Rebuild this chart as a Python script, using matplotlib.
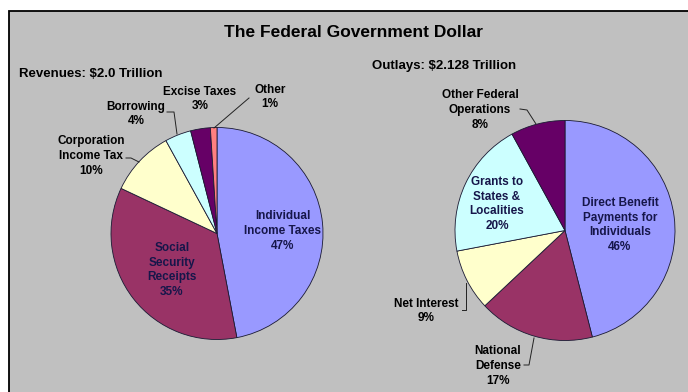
import matplotlib
matplotlib.use("Agg")
import matplotlib.pyplot as plt
from matplotlib.patches import Rectangle

W, H = 688, 392

# revenues pie
rev_labels = ["Individual\nIncome Taxes", "Social\nSecurity\nReceipts", "Corporation\nIncome Tax",
              "Borrowing", "Excise Taxes", "Other"]
rev_values = [47, 35, 10, 4, 3, 1]
rev_colors = ["#9999FF", "#993366", "#FFFFCC", "#CCFFFF", "#660066", "#FF8080"]

# outlays pie
out_labels = ["Direct Benefit\nPayments for\nIndividuals", "National\nDefense", "Net Interest",
              "Grants to\nStates &\nLocalities", "Other Federal\nOperations"]
out_values = [46, 17, 9, 20, 8]
out_colors = ["#9999FF", "#993366", "#FFFFCC", "#CCFFFF", "#660066"]

NAVY = "#16164a"
FONT = "Liberation Sans"


def P(x, y):
    # pixel position (top-left origin) -> axes data coords
    return x, H - y


fig = plt.figure(figsize=(W / 100, H / 100), dpi=100)
fig.patch.set_facecolor("white")
ax = fig.add_axes([0, 0, 1, 1])

wedge_style = dict(edgecolor="#1a1a33", linewidth=0.6)
ax.pie(rev_values, colors=rev_colors, startangle=90, counterclock=False,
       center=P(217, 233.5), radius=106, wedgeprops=wedge_style, frame=True)
ax.pie(out_values, colors=out_colors, startangle=90, counterclock=False,
       center=P(565, 230.5), radius=110, wedgeprops=wedge_style, frame=True)

ax.set_xlim(0, W)
ax.set_ylim(0, H)
ax.set_aspect("equal")
ax.axis("off")

# grey panel, only its top and left borders fall inside the figure
ax.add_patch(Rectangle(P(9, 1500), 2000, 1489, facecolor="#C0C0C0",
                       edgecolor="none", zorder=0))
ax.plot([9, 9, 2000], [-100, H - 11, H - 11], color="black", linewidth=1.3,
        solid_joinstyle="miter", zorder=0.5)

ax.text(*P(353, 32), "The Federal Government Dollar", ha="center", va="center",
        fontsize=12.5, fontweight="bold", family=FONT)
ax.text(*P(19, 74), "Revenues: $2.0 Trillion", ha="left", va="center",
        fontsize=9.5, fontweight="bold", family=FONT)
ax.text(*P(372, 66), "Outlays: $2.128 Trillion", ha="left", va="center",
        fontsize=9.5, fontweight="bold", family=FONT)

# label centres and colours, same order as the data
rev_pos = [(283, 231), (172, 270), (91, 156), (136, 114), (200, 99), (270, 97)]
rev_txt = [NAVY, NAVY, "black", "black", "black", "black"]
out_pos = [(620, 225), (498, 366), (426, 311), (497, 204), (480, 110)]
out_txt = [NAVY, "black", "black", NAVY, "black"]

for labels, values, pos, cols in [(rev_labels, rev_values, rev_pos, rev_txt),
                                  (out_labels, out_values, out_pos, out_txt)]:
    for lab, v, (x, y), c in zip(labels, values, pos, cols):
        ax.text(*P(x, y), f"{lab}\n{v}%", ha="center", va="center", color=c,
                fontsize=8.5, fontweight="bold", family=FONT, linespacing=1.3)

# leader lines
leaders = [
    [(126, 158), (131, 158), (139, 162)],
    [(167, 112), (174, 112), (177, 134)],
    [(249, 98), (214, 128)],
    [(520, 109), (527, 110), (536, 124)],
    [(462, 310), (466, 310), (466, 283)],
    [(524, 365), (529, 365), (534, 338)],
]
for pts in leaders:
    xs = [p[0] for p in pts]
    ys = [H - p[1] for p in pts]
    ax.plot(xs, ys, color="#222222", linewidth=0.7)

ax.set_xlim(0, W)
ax.set_ylim(0, H)

fig.savefig("out.png", dpi=100)
